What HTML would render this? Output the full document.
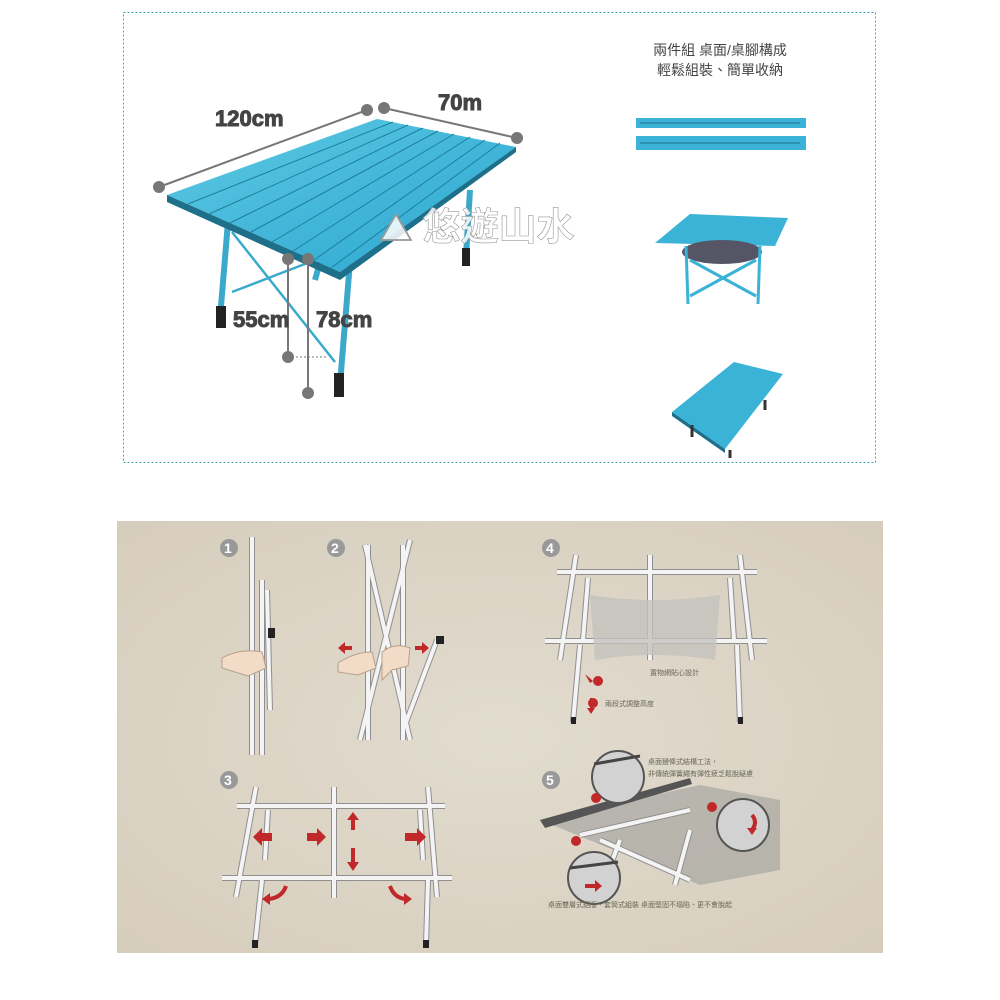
<!DOCTYPE html>
<html><head><meta charset="utf-8"><style>
body{margin:0;background:#fff;width:1000px;height:1000px;overflow:hidden;font-family:"Liberation Sans","Noto Sans CJK TC",sans-serif}
svg{position:absolute;left:0;top:0}
.t{stroke:#8f8f8f;stroke-width:6;fill:none;stroke-linecap:butt}
.w{stroke:#f4f4f4;stroke-width:4;fill:none}
</style></head><body>
<svg width="1000" height="1000" viewBox="0 0 1000 1000">
<defs>
<radialGradient id="bg" cx="0.5" cy="0.5" r="0.7"><stop offset="0" stop-color="#e2dccf"/><stop offset="1" stop-color="#d6cdbc"/></radialGradient>
<linearGradient id="top" x1="0" y1="0" x2="1" y2="1"><stop offset="0" stop-color="#5ec9e4"/><stop offset="1" stop-color="#2aa6cf"/></linearGradient>
</defs>
<rect x="123.5" y="12.5" width="752" height="450" fill="#fff" stroke="#3aa3b8" stroke-dasharray="2,2"/>
<g stroke="#3ba9cc" stroke-width="6" fill="none">
<line x1="228" y1="222" x2="220" y2="318"/><line x1="350" y1="262" x2="340" y2="384"/>
<line x1="470" y1="190" x2="466" y2="256"/><line x1="320" y1="262" x2="315" y2="280"/>
</g>
<g stroke="#3ba9cc" stroke-width="2.5" fill="none">
<line x1="232" y1="232" x2="335" y2="362"/><line x1="232" y1="292" x2="310" y2="262"/>
</g>
<rect x="216" y="306" width="10" height="22" fill="#222"/><rect x="334" y="373" width="10" height="24" fill="#222"/><rect x="462" y="248" width="8" height="18" fill="#222"/>
<polygon points="167,195 377,119 516,147 340,272" fill="url(#top)"/>
<polygon points="167,195 340,272 516,147 516,152 340,280 167,202" fill="#1d6f8a"/>
<g stroke="#1e7e9e" stroke-width="1">
<line x1="188" y1="204" x2="393" y2="122"/><line x1="209" y1="214" x2="408" y2="125"/><line x1="230" y1="223" x2="423" y2="128"/><line x1="251" y1="232" x2="438" y2="131"/><line x1="272" y1="242" x2="454" y2="134"/><line x1="293" y1="251" x2="470" y2="137"/><line x1="314" y1="260" x2="485" y2="140"/><line x1="331" y1="268" x2="500" y2="143"/>
</g>
<g stroke="#777" stroke-width="2" fill="#777">
<line x1="159" y1="187" x2="367" y2="110"/><circle cx="159" cy="187" r="5"/><circle cx="367" cy="110" r="5"/>
<line x1="384" y1="108" x2="517" y2="138"/><circle cx="384" cy="108" r="5"/><circle cx="517" cy="138" r="5"/>
<line x1="288" y1="259" x2="288" y2="357"/><circle cx="288" cy="259" r="5"/><circle cx="288" cy="357" r="5"/>
<line x1="308" y1="259" x2="308" y2="393"/><circle cx="308" cy="259" r="5"/><circle cx="308" cy="393" r="5"/>
</g>
<line x1="292" y1="357" x2="328" y2="357" stroke="#777" stroke-dasharray="2,2"/>
<g font-weight="bold" fill="#444" font-size="22" stroke="#444" stroke-width="1">
<text x="215" y="126">120cm</text><text x="438" y="110">70m</text>
<text x="233" y="327">55cm</text><text x="316" y="327">78cm</text>
</g>
<text x="380" y="240" font-size="38" fill="#fff" fill-opacity="0.85" stroke="#999" stroke-width="0.6" font-weight="bold">⛰ 悠遊山水</text>
<text x="720" y="55" font-size="14" fill="#444" text-anchor="middle">兩件組 桌面/桌腳構成</text>
<text x="720" y="75" font-size="14" fill="#444" text-anchor="middle">輕鬆組裝、簡單收納</text>
<g fill="#3ab3d6"><rect x="636" y="118" width="170" height="10"/><rect x="636" y="136" width="170" height="14"/></g>
<g stroke="#1d6f8a" stroke-width="1"><line x1="640" y1="123" x2="800" y2="123"/><line x1="640" y1="143" x2="800" y2="143"/></g>
<polygon points="655,243 690,214 788,218 775,246" fill="#3ab3d6"/>
<ellipse cx="722" cy="252" rx="40" ry="12" fill="#556"/>
<g stroke="#3ab3d6" stroke-width="3"><line x1="686" y1="246" x2="688" y2="304"/><line x1="760" y1="246" x2="758" y2="304"/><line x1="690" y1="260" x2="756" y2="296"/><line x1="690" y1="296" x2="756" y2="260"/></g>
<polygon points="672,412 734,362 783,374 725,449" fill="#3ab3d6"/>
<polygon points="672,412 725,449 725,453 672,416" fill="#1d6f8a"/>
<g stroke="#333" stroke-width="3"><line x1="692" y1="425" x2="692" y2="437"/><line x1="730" y1="450" x2="730" y2="458"/><line x1="765" y1="400" x2="765" y2="410"/></g>

<rect x="117" y="521" width="766" height="432" fill="url(#bg)"/>
<g font-size="14" font-weight="bold" fill="#fff">
<circle cx="229" cy="548" r="9" fill="#999"/><text x="224" y="553">1</text>
<circle cx="336" cy="548" r="9" fill="#999"/><text x="331" y="553">2</text>
<circle cx="551" cy="548" r="9" fill="#999"/><text x="546" y="553">4</text>
<circle cx="229" cy="780" r="9" fill="#999"/><text x="224" y="785">3</text>
<circle cx="551" cy="780" r="9" fill="#999"/><text x="546" y="785">5</text>
</g>
<!-- tubes -->
<g id="tubes">
<path class="t" d="M252 537V755M262 580V755M267 590L270 710M365 545L410 740M410 540L360 740M368 545V740M403 545V740M437 640L405 725M540 0"/>
<path class="t" d="M237 806H445M222 878H452M256 787L236 897M334 787V898M428 787L437 897M262 880L255 945M428 880L426 945M268 810L265 860M420 810L423 860"/>
<path class="t" d="M557 572H757M545 641H767M576 555L560 660M650 555V660M740 555L752 660M580 645L573 722M737 645L740 722M588 578L583 640M730 578L734 640"/>
<path class="w" d="M252 537V755M262 580V755M267 590L270 710M365 545L410 740M410 540L360 740M368 545V740M403 545V740M437 640L405 725"/>
<path class="w" d="M237 806H445M222 878H452M256 787L236 897M334 787V898M428 787L437 897M262 880L255 945M428 880L426 945M268 810L265 860M420 810L423 860"/>
<path class="w" d="M557 572H757M545 641H767M576 555L560 660M650 555V660M740 555L752 660M580 645L573 722M737 645L740 722M588 578L583 640M730 578L734 640"/>
</g>
<g fill="#222"><rect x="268" y="628" width="7" height="10"/><rect x="436" y="636" width="8" height="8"/><rect x="252" y="940" width="6" height="8"/><rect x="423" y="940" width="6" height="8"/><rect x="571" y="717" width="5" height="7"/><rect x="738" y="717" width="5" height="7"/></g>
<path d="M590 595Q655 605 720 595L715 660Q655 650 595 660Z" fill="#c4c2be" opacity="0.8"/>
<!-- hands -->
<g fill="#f2dcc8" stroke="#b8a08a" stroke-width="1">
<path d="M222 658Q240 648 262 652L266 668L248 676L222 668Z"/>
<path d="M338 663Q355 652 372 652L376 668L358 675L338 672Z"/>
<path d="M382 652Q395 642 410 648L408 666L392 670L382 680Z"/>
</g>
<!-- step 5 -->
<polygon points="540,820 700,785 780,800 780,870 700,885" fill="#a8a6a2" opacity="0.7"/>
<polygon points="540,820 690,778 692,784 545,828" fill="#555"/>
<path class="t" d="M580 835L690 810M600 840L690 880M620 840L605 880M690 830L675 885"/>
<path class="w" d="M580 835L690 810M600 840L690 880M620 840L605 880M690 830L675 885"/>
<circle cx="618" cy="777" r="26" fill="#d2d2d2" stroke="#555" stroke-width="2"/>
<circle cx="743" cy="825" r="26" fill="#d2d2d2" stroke="#555" stroke-width="2"/>
<circle cx="594" cy="878" r="26" fill="#d2d2d2" stroke="#555" stroke-width="2"/>
<path d="M594 764L640 756" stroke="#444" stroke-width="3"/><path d="M570 868L618 862" stroke="#444" stroke-width="3"/>
<!-- arrows -->
<g fill="#c0282a">
<path d="M272 833h-10v-5l-9 9 9 9v-5h10z"/>
<path d="M307 833h10v-5l9 9-9 9v-5h-10z"/>
<path d="M405 833h12v-5l9 9-9 9v-5h-12z"/>
<path d="M351 830v-10h-4l6-8 6 8h-4v10z"/>
<path d="M351 848v14h-4l6 9 6-9h-4v-14z"/>
<path d="M352 646h-7v-4l-7 6 7 6v-4h7z"/>
<path d="M415 646h7v-4l7 6-7 6v-4h-7z"/>
<path d="M590 698v10h-3l4 6 4-6h-3v-10z"/>
<path d="M585 674l8 7-3 2z"/>
<path d="M585 884h10v-4l7 6-7 6v-4h-10z"/>
<circle cx="598" cy="681" r="5"/><circle cx="593" cy="703" r="5"/><circle cx="596" cy="798" r="5"/><circle cx="712" cy="807" r="5"/><circle cx="576" cy="841" r="5"/>
</g>
<g fill="none" stroke="#c0282a" stroke-width="4"><path d="M286 886Q282 898 268 899"/><path d="M390 886Q394 898 406 899"/><path d="M752 815Q758 822 752 830"/></g>
<g fill="#c0282a"><path d="M262 899l8-6v12z"/><path d="M412 899l-8-6v12z"/><path d="M747 828l10 0-5 7z"/></g>
<g font-size="7" fill="#665">
<text x="650" y="675">置物網貼心設計</text><text x="605" y="706">兩段式調整高度</text>
<text x="648" y="764">桌面鏈條式結構工法，</text><text x="648" y="776">非傳統彈簧繩有彈性疲乏鬆脫疑慮</text>
<text x="548" y="907">桌面雙層式鋁版、套筒式組裝 桌面堅固不塌陷、更不會脫起</text>
</g>
</svg>
</body></html>
